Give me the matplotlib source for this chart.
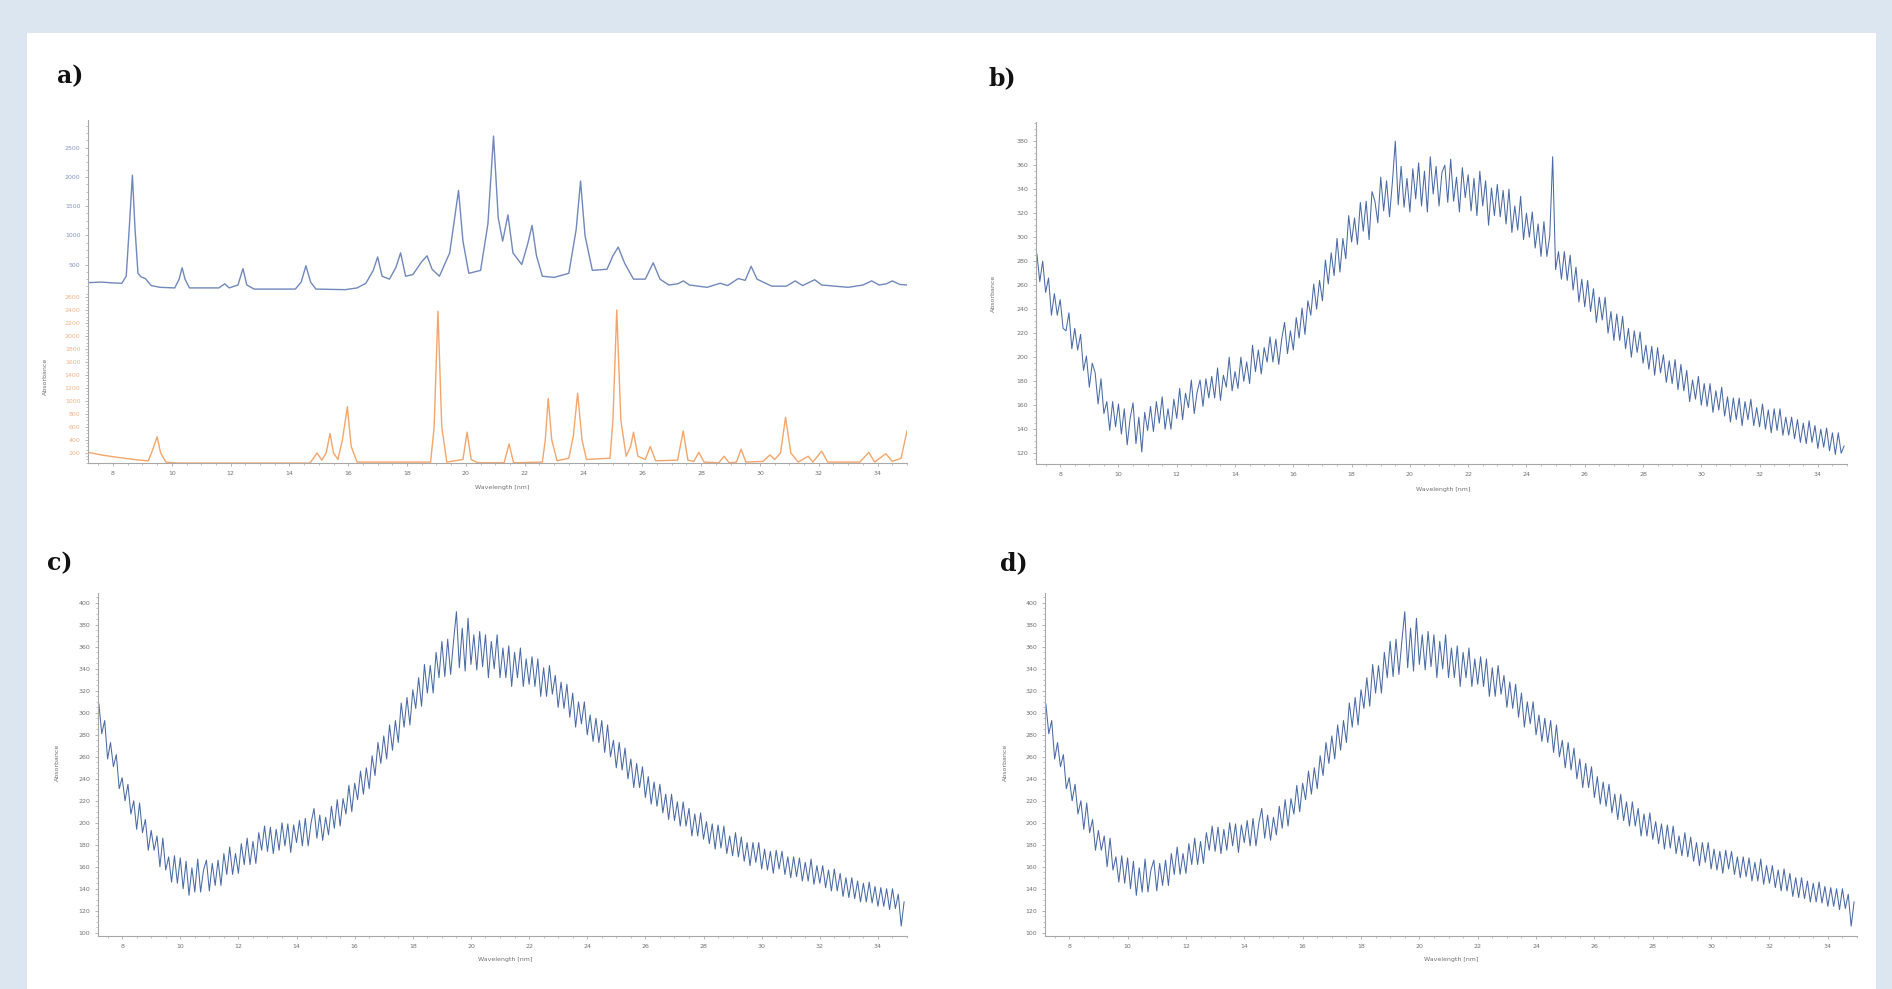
import numpy as np
import matplotlib.pyplot as plt
from matplotlib.ticker import MultipleLocator, AutoMinorLocator
from matplotlib.patches import Rectangle

# ---- panel a: two stacked spectra (peak outline vertices)
wl_blue = [7.15, 7.6, 8.0, 8.3, 8.45, 8.55, 8.66, 8.75, 8.85, 8.95, 9.1, 9.3, 9.6, 10.1,
           10.25, 10.35, 10.45, 10.6, 11.6, 11.8, 11.95, 12.25, 12.42, 12.55, 12.8, 14.2,
           14.4, 14.56, 14.72, 14.9, 15.9, 16.3, 16.6, 16.85, 17.0, 17.15, 17.4, 17.62,
           17.78, 17.95, 18.2, 18.5, 18.68, 18.85, 19.1, 19.45, 19.75, 19.9, 20.1, 20.5,
           20.75, 20.94, 21.1, 21.25, 21.43, 21.6, 21.9, 22.1, 22.25, 22.4, 22.6, 23.0,
           23.5, 23.75, 23.9, 24.05, 24.3, 24.8, 25.0, 25.18, 25.4, 25.7, 26.1, 26.37,
           26.6, 26.9, 27.2, 27.4, 27.6, 28.2, 28.65, 28.9, 29.26, 29.5, 29.7, 29.9, 30.4,
           30.9, 31.2, 31.45, 31.86, 32.1, 33.0, 33.5, 33.8, 34.05, 34.3, 34.5, 34.75, 35.0]
abs_blue = [190, 200, 185, 180, 300, 1100, 2030, 1100, 350, 290, 260, 140, 110, 100,
            250, 445, 250, 100, 100, 170, 100, 150, 430, 150, 80, 80,
            200, 480, 200, 80, 70, 100, 180, 400, 630, 300, 250, 450,
            700, 300, 330, 550, 650, 420, 300, 700, 1770, 900, 350, 400,
            1200, 2700, 1300, 900, 1350, 700, 500, 850, 1170, 650, 300, 280,
            350, 1100, 1930, 1000, 400, 420, 650, 800, 520, 250, 250, 530,
            250, 150, 170, 220, 150, 110, 180, 140, 260, 230, 470, 250, 130,
            130, 220, 140, 240, 150, 110, 150, 220, 150, 170, 220, 160, 150]

wl_orange = [7.15, 7.6, 8.2, 8.9, 9.2, 9.35, 9.5, 9.62, 9.8, 10.2, 14.7, 14.94, 15.1,
             15.25, 15.38, 15.5, 15.65, 15.8, 15.97, 16.1, 16.3, 18.8, 18.92, 19.05,
             19.18, 19.35, 19.9, 20.04, 20.18, 20.4, 21.3, 21.47, 21.62, 22.6, 22.7,
             22.8, 22.92, 23.1, 23.5, 23.65, 23.8, 23.95, 24.1, 24.9, 25.0, 25.13, 25.27,
             25.45, 25.6, 25.7, 25.85, 26.1, 26.27, 26.45, 27.2, 27.39, 27.55, 27.75,
             27.92, 28.1, 28.6, 28.78, 28.95, 29.2, 29.36, 29.52, 30.1, 30.34, 30.5,
             30.7, 30.87, 31.05, 31.3, 31.64, 31.8, 32.1, 32.3, 33.4, 33.7, 33.9, 34.28,
             34.5, 34.8, 35.0]
abs_orange = [210, 170, 130, 90, 80, 250, 450, 200, 60, 45, 45, 200, 90,
              200, 500, 200, 100, 400, 910, 300, 60, 60, 600, 2380,
              600, 60, 100, 520, 100, 50, 50, 340, 50, 60, 400,
              1040, 400, 80, 120, 450, 1120, 400, 100, 120, 700, 2400, 700,
              150, 300, 520, 150, 100, 300, 80, 90, 540, 90, 70,
              210, 60, 50, 150, 50, 60, 260, 60, 70, 170, 100,
              200, 750, 200, 60, 150, 60, 230, 60, 60, 210, 60, 190,
              70, 120, 540]

# ---- panel b: noisy spectrum, one value per 0.1 nm from 7.2 to 34.9 nm
abs_b = [286, 263, 280, 254, 266, 235, 253, 235, 248, 224,
         222, 237, 207, 224, 206, 219, 189, 201, 175, 195,
         187, 161, 182, 153, 163, 139, 163, 142, 161, 136,
         157, 127, 149, 162, 128, 150, 121, 154, 139, 159,
         138, 163, 145, 167, 140, 157, 140, 165, 149, 174,
         148, 170, 158, 181, 153, 171, 181, 159, 182, 166,
         184, 166, 191, 164, 185, 175, 200, 172, 188, 174,
         200, 180, 196, 178, 210, 188, 206, 186, 208, 196,
         217, 196, 215, 194, 215, 229, 203, 222, 206, 233,
         216, 241, 219, 247, 235, 261, 240, 264, 247, 281,
         261, 287, 268, 299, 271, 299, 282, 318, 296, 316,
         294, 329, 305, 330, 298, 338, 330, 312, 350, 322,
         347, 317, 346, 380, 327, 359, 325, 349, 321, 357,
         332, 362, 326, 355, 321, 367, 336, 359, 326, 354,
         360, 329, 365, 330, 350, 321, 358, 333, 352, 322,
         349, 318, 355, 326, 347, 310, 341, 318, 344, 317,
         339, 311, 340, 304, 326, 306, 334, 298, 320, 300,
         321, 291, 311, 284, 313, 284, 301, 367, 273, 288,
         265, 288, 264, 285, 256, 275, 246, 265, 242, 264,
         238, 257, 229, 250, 231, 250, 220, 238, 214, 236,
         214, 234, 207, 224, 200, 222, 204, 221, 195, 210,
         190, 209, 185, 208, 187, 202, 179, 197, 178, 198,
         173, 194, 172, 189, 163, 181, 165, 184, 160, 178,
         159, 178, 154, 172, 156, 175, 151, 167, 146, 166,
         148, 166, 143, 163, 148, 165, 143, 158, 142, 161,
         140, 156, 137, 157, 139, 157, 135, 150, 135, 150,
         132, 148, 129, 145, 128, 147, 129, 143, 124, 140,
         125, 141, 122, 137, 119, 137, 120, 126]

# ---- panels c and d: the same noisy spectrum, one value per 0.1 nm from 7.2 to 34.9 nm
abs_c = [308, 281, 293, 258, 273, 251, 262, 231, 241, 220,
         235, 208, 220, 194, 218, 191, 203, 175, 193, 175,
         188, 160, 186, 157, 169, 146, 170, 145, 168, 140,
         165, 134, 159, 137, 167, 137, 157, 166, 138, 163,
         143, 166, 143, 172, 153, 178, 153, 172, 154, 181,
         162, 186, 162, 183, 163, 191, 175, 197, 174, 196,
         172, 194, 175, 200, 179, 199, 173, 198, 182, 202,
         179, 204, 179, 200, 213, 186, 207, 184, 205, 189,
         215, 195, 221, 197, 222, 208, 234, 210, 236, 221,
         247, 226, 250, 231, 261, 243, 273, 254, 279, 258,
         289, 266, 293, 273, 309, 287, 314, 289, 321, 304,
         332, 306, 344, 318, 343, 318, 355, 332, 365, 333,
         367, 335, 365, 392, 341, 377, 338, 386, 344, 371,
         339, 374, 342, 371, 332, 365, 340, 371, 332, 359,
         332, 361, 324, 355, 332, 359, 324, 349, 326, 351,
         324, 349, 315, 341, 315, 343, 317, 334, 305, 328,
         304, 326, 296, 318, 287, 310, 290, 310, 280, 298,
         274, 295, 273, 293, 264, 289, 260, 275, 250, 273,
         248, 268, 240, 258, 232, 254, 232, 251, 223, 242,
         217, 237, 215, 235, 209, 226, 203, 226, 202, 219,
         197, 219, 197, 213, 188, 208, 188, 209, 185, 201,
         181, 199, 176, 198, 177, 197, 172, 188, 170, 191,
         169, 187, 165, 182, 161, 182, 164, 182, 158, 176,
         157, 174, 154, 175, 158, 174, 153, 169, 150, 169,
         151, 168, 147, 164, 147, 167, 144, 161, 145, 161,
         141, 157, 138, 158, 138, 154, 133, 150, 132, 150,
         131, 147, 128, 145, 128, 146, 127, 142, 124, 141,
         124, 140, 121, 140, 122, 135, 106, 128]
abs_d = abs_c

W, H = 1892, 989
GRAY = '#a8a8a8'
TXT = '#707070'
BLUE = '#4a6aa4'

fig = plt.figure(figsize=(W / 100, H / 100), dpi=100, facecolor='#dce6f1')
fig.patches.append(Rectangle((27 / W, 0), (1876 - 27) / W, 1 - 33 / H,
                             transform=fig.transFigure, facecolor='white',
                             edgecolor='none', zorder=-5))


def make_axes(l, t, r, b):
    return fig.add_axes([l / W, 1 - b / H, (r - l) / W, (b - t) / H])


def style(ax, xlim):
    ax.set_facecolor('none')
    for s in ['top', 'right']:
        ax.spines[s].set_visible(False)
    for s in ['left', 'bottom']:
        ax.spines[s].set_color(GRAY)
        ax.spines[s].set_linewidth(0.8)
    ax.set_xlim(*xlim)
    ax.xaxis.set_major_locator(MultipleLocator(2))
    ax.xaxis.set_minor_locator(MultipleLocator(0.5))
    ax.yaxis.set_minor_locator(AutoMinorLocator(4))
    ax.tick_params(which='major', labelsize=4.5, length=2.5, width=0.6, color=GRAY,
                   labelcolor=TXT, pad=3)
    ax.tick_params(which='minor', length=1.3, width=0.5, color=GRAY)


def axis_texts(xc, xy, yx, yy):
    fig.text(xc / W, 1 - xy / H, 'Wavelength [nm]', fontsize=4.5, color=TXT,
             ha='center', va='center')
    fig.text(yx / W, 1 - yy / H, 'Absorbance', fontsize=4.5, color=TXT,
             rotation=90, ha='center', va='center')


def panel_letter(x, y, s):
    fig.text(x / W, 1 - y / H, s, fontsize=17, fontweight='bold',
             family='DejaVu Serif', ha='left', va='center', color='#111111')


# panel a
a_top = make_axes(88, 120, 907, 292)
a_bot = make_axes(88, 292, 907, 463)
style(a_top, (7.15, 35.0))
style(a_bot, (7.15, 35.0))
a_top.spines['bottom'].set_visible(False)
a_top.tick_params(axis='x', which='both', bottom=False, labelbottom=False)
a_top.plot(wl_blue, abs_blue, color='#7088bb', lw=1.0)
a_top.set_ylim(30, 2975)
a_top.yaxis.set_major_locator(MultipleLocator(500))
a_top.tick_params(axis='y', labelcolor='#8796c2')
a_bot.plot(wl_orange, abs_orange, color='#f4a56a', lw=1.0)
a_bot.set_ylim(46, 2677)
a_bot.yaxis.set_major_locator(MultipleLocator(200))
a_bot.tick_params(axis='y', labelcolor='#f3b286')
axis_texts(502, 488, 45, 376)
panel_letter(57, 76, 'a)')

# panel b
ax_b = make_axes(1036, 122, 1847, 464)
style(ax_b, (7.17, 35.0))
wl_b = np.linspace(7.2, 34.9, len(abs_b))
ax_b.plot(wl_b, abs_b, color=BLUE, lw=0.75)
ax_b.set_ylim(111, 396)
ax_b.yaxis.set_major_locator(MultipleLocator(20))
axis_texts(1443, 489, 993, 293)
panel_letter(988, 78, 'b)')

# panel c
ax_c = make_axes(98, 593, 907, 936)
style(ax_c, (7.17, 35.0))
wl_c = np.linspace(7.2, 34.9, len(abs_c))
ax_c.plot(wl_c, abs_c, color=BLUE, lw=0.75)
ax_c.set_ylim(97, 409)
ax_c.yaxis.set_major_locator(MultipleLocator(20))
axis_texts(505, 960, 57, 762)
panel_letter(47, 563, 'c)')

# panel d
ax_d = make_axes(1045, 593, 1857, 936)
style(ax_d, (7.17, 35.0))
wl_d = np.linspace(7.2, 34.9, len(abs_d))
ax_d.plot(wl_d, abs_d, color=BLUE, lw=0.75)
ax_d.set_ylim(97, 409)
ax_d.yaxis.set_major_locator(MultipleLocator(20))
axis_texts(1451, 960, 1005, 762)
panel_letter(1000, 563, 'd)')

fig.savefig('out.png', dpi=100, facecolor=fig.get_facecolor())
